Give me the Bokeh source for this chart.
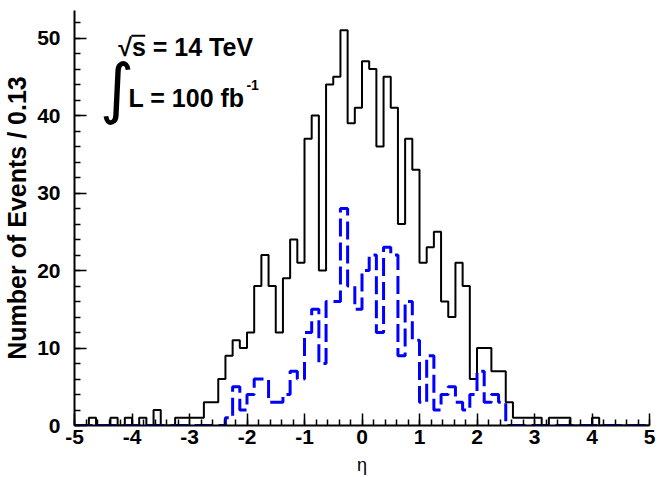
import numpy as np
from bokeh.plotting import figure
from bokeh.models import Range1d, FixedTicker, Label
from bokeh.embed import file_html
from bokeh.resources import INLINE

# ---- data ----
x_min, x_max, n_bins = -5.0, 5.0, 80
black_counts = [0, 0, 1, 0, 0, 1, 0, 1, 0, 1,
                0, 2, 0, 0, 1, 1, 1, 1, 3, 3,
                6, 9, 11, 10, 12, 18, 22, 18, 12, 19,
                24, 21, 37, 40, 20, 44, 45, 51, 39, 41,
                47, 46, 36, 45, 41, 26, 37, 33, 21, 23,
                25, 16, 14, 21, 18, 6, 10, 10, 7, 7,
                3, 1, 1, 1, 1, 0, 1, 1, 1, 0,
                0, 0, 1, 0, 0, 0, 0, 0, 0, 0]
blue_counts = [0, 0, 0, 0, 0, 0, 0, 0, 0, 0,
               0, 0, 0, 0, 0, 0, 0, 0, 0, 0,
               0, 1, 5, 2, 4, 6, 6, 3, 3, 4,
               7, 6, 12, 15, 8, 16, 16, 28, 18, 15,
               20, 22, 12, 23, 22, 9, 16, 11, 3, 9,
               2, 4, 5, 3, 2, 4, 7, 3, 4, 3,
               0, 0, 0, 0, 0, 0, 0, 0, 0, 0,
               0, 0, 0, 0, 0, 0, 0, 0, 0, 0]
x_ticks = [-5, -4, -3, -2, -1, 0, 1, 2, 3, 4, 5]
y_ticks = [0, 10, 20, 30, 40, 50]

edges = np.linspace(x_min, x_max, n_bins + 1)

p = figure(width=671, height=477, output_backend="svg", toolbar_location=None,
           x_range=Range1d(x_min, x_max), y_range=Range1d(0, max(black_counts) * 1.05),
           min_border_left=72, min_border_right=22, min_border_top=10, min_border_bottom=52)
p.outline_line_color = None
p.xgrid.visible = False
p.ygrid.visible = False
p.background_fill_color = "white"
p.border_fill_color = "white"

def step_y(c):
    return list(c) + [c[-1]]

p.step(edges, step_y(black_counts), mode="after", line_color="black", line_width=2)
p.step(edges, step_y(blue_counts), mode="after", line_color="#0000ff", line_width=3,
       line_dash="18 6")

xminor = [round(v, 2) for v in np.arange(x_min, x_max + 0.001, 0.2)]
p.xaxis.ticker = FixedTicker(ticks=x_ticks, minor_ticks=xminor)
p.xaxis.major_label_overrides = {float(t): str(t) for t in x_ticks}
yminor = list(range(0, 54, 2))
p.yaxis.ticker = FixedTicker(ticks=y_ticks, minor_ticks=yminor)

for ax in (p.xaxis[0], p.yaxis[0]):
    ax.axis_line_width = 2
    ax.axis_line_color = "black"
    ax.major_tick_in = 12
    ax.major_tick_out = 0
    ax.minor_tick_in = 6
    ax.minor_tick_out = 0
    ax.major_tick_line_width = 1.5
    ax.minor_tick_line_width = 1.5
    ax.major_label_text_font = "Liberation Sans"
    ax.major_label_text_font_style = "bold"
    ax.major_label_text_font_size = "21px"
    ax.major_label_text_color = "black"
    ax.axis_label_text_color = "black"

p.xaxis.major_label_standoff = 4
p.yaxis.major_label_standoff = 14
p.xaxis.axis_label = "η"
p.xaxis.axis_label_text_font = "Liberation Sans"
p.xaxis.axis_label_text_font_style = "normal"
p.xaxis.axis_label_text_font_size = "18px"
p.xaxis.axis_label_standoff = 8
p.yaxis.axis_label = "Number of Events / 0.13"
p.yaxis.axis_label_text_font = "Liberation Sans"
p.yaxis.axis_label_text_font_style = "bold"
p.yaxis.axis_label_text_font_size = "25px"
p.yaxis.axis_label_standoff = 3

# ---- annotations ----
p.add_layout(Label(x=-4.24, y=48.8, text="√s = 14 TeV", text_font="Liberation Sans",
                   text_font_style="bold", text_font_size="25px", text_baseline="middle",
                   text_color="black"))
p.segment(x0=[-4.01], y0=[50.3], x1=[-3.77], y1=[50.3], line_color="black", line_width=2)
p.add_layout(Label(x=-4.56, y=43.5, text="∫", text_font="DejaVu Sans",
                   text_font_size="66px", text_baseline="middle", text_color="black"))
p.add_layout(Label(x=-4.06, y=42.3, text="L = 100 fb", text_font="Liberation Sans",
                   text_font_style="bold", text_font_size="25px", text_baseline="middle",
                   text_color="black"))
p.add_layout(Label(x=-2.01, y=43.9, text="-1", text_font="Liberation Sans",
                   text_font_style="bold", text_font_size="14px", text_baseline="middle",
                   text_color="black"))

open("out.html", "w").write(file_html(p, INLINE))
